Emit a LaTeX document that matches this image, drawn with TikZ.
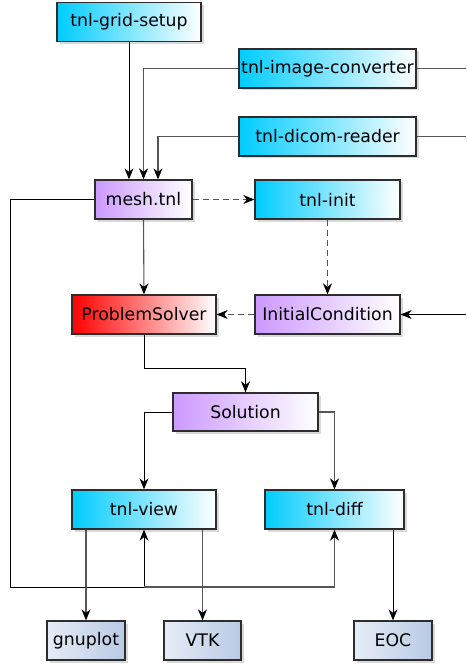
\documentclass[tikz,border=0pt]{standalone}
\usepackage{fontspec}
\setmainfont{DejaVu Sans}
\usetikzlibrary{arrows.meta,shadows,calc}

\definecolor{toolcyan}{RGB}{0,204,255}
\definecolor{datapurple}{RGB}{204,153,255}
\definecolor{solverred}{RGB}{255,0,0}
\definecolor{outlight}{RGB}{230,236,246}
\definecolor{outdark}{RGB}{184,202,228}
\definecolor{boxline}{RGB}{45,45,45}
\definecolor{wiregray}{RGB}{85,85,85}

\tikzset{
  box/.style={rectangle, draw=boxline, line width=1.3pt, inner sep=0pt,
    minimum height=39pt, font=\fontsize{17.3}{20}\selectfont,
    drop shadow={shadow xshift=2.5pt, shadow yshift=-2.5pt, opacity=0.3}},
  toolbox/.style={box, left color=toolcyan, right color=white},
  databox/.style={box, left color=datapurple, right color=white},
  solverbox/.style={box, left color=solverred, right color=white},
  outbox/.style={box, left color=outlight, right color=outdark},
  wire/.style={line width=1pt, draw=black},
  graywire/.style={line width=1.1pt, draw=wiregray},
  arr/.style={-{Stealth[length=11pt,width=9pt,inset=3.5pt,color=black]}},
  dashwire/.style={graywire, dash pattern=on 6pt off 4pt}
}

\begin{document}
\begin{tikzpicture}[x=1pt,y=-1pt]
  \useasboundingbox (0,0) rectangle (466,668);
  \coordinate (edge) at (466,0);
  \coordinate (loop) at (10,587);

  % tools and data
  \node[toolbox, minimum width=144pt] (grid) at (129,22) {tnl-grid-setup};
  \node[toolbox, minimum width=177pt] (conv) at (327.5,68.5) {tnl-image-converter};
  \node[toolbox, minimum width=177pt] (dicom) at (327.5,136.5) {tnl-dicom-reader};
  \node[databox, minimum width=97pt] (mesh) at (143.5,199.5) {mesh.tnl};
  \node[toolbox, minimum width=145pt] (init) at (327.5,199.5) {tnl-init};
  \node[solverbox, minimum width=144pt] (ps) at (144,314.5) {ProblemSolver};
  \node[databox, minimum width=145pt] (ic) at (327.5,314.5) {InitialCondition};
  \node[databox, minimum width=145pt, minimum height=38pt] (sol) at (245.5,412) {Solution};
  \node[toolbox, minimum width=144pt] (view) at (144,509.5) {tnl-view};
  \node[toolbox, minimum width=139pt] (diff) at (334.5,509.5) {tnl-diff};
  \node[outbox, minimum width=78pt] (gnu) at (86,640.5) {gnuplot};
  \node[outbox, minimum width=77pt] (vtk) at (202.5,640.5) {VTK};
  \node[outbox, minimum width=78pt] (eoc) at (393,640.5) {EOC};

  % mesh generation
  \draw[wire, arr] (grid.south) -- (grid.south |- mesh.north);
  \draw[graywire, arr] (conv.west) -| (mesh.north);
  \draw[graywire, arr] (dicom.west) -| ([xshift=14.5pt]mesh.north);
  \draw[graywire] (conv.east) -- (conv.east -| edge);
  \draw[graywire] (dicom.east) -- (dicom.east -| edge);

  % initial condition
  \draw[dashwire, arr] (mesh.east) -- (init.west);
  \draw[dashwire, arr] (init.south) -- (ic.north);
  \draw[dashwire, arr] (ic.west) -- (ps.east);
  \draw[wire, arr] (ic.east -| edge) -- (ic.east);

  % solver
  \draw[graywire, arr] (mesh.south) -- (ps.north);
  \draw[wire, arr] (ps.south) -- ++(0,34) -| (sol.north);
  \draw[wire, arr] (sol.west) -| (view.north);
  \draw[graywire, arr] (sol.east) -| (diff.north);

  % mesh fed to the post-processing tools
  \draw[wire, arr] (mesh.west) -| (loop) -| (view.south);
  \draw[graywire, arr] (view.south |- loop) -| (diff.south);

  % outputs
  \draw[graywire, arr] (gnu.north |- view.south) -- (gnu.north);
  \draw[graywire, arr] (vtk.north |- view.south) -- (vtk.north);
  \draw[wire, arr] (eoc.north |- diff.south) -- (eoc.north);
\end{tikzpicture}
\end{document}
